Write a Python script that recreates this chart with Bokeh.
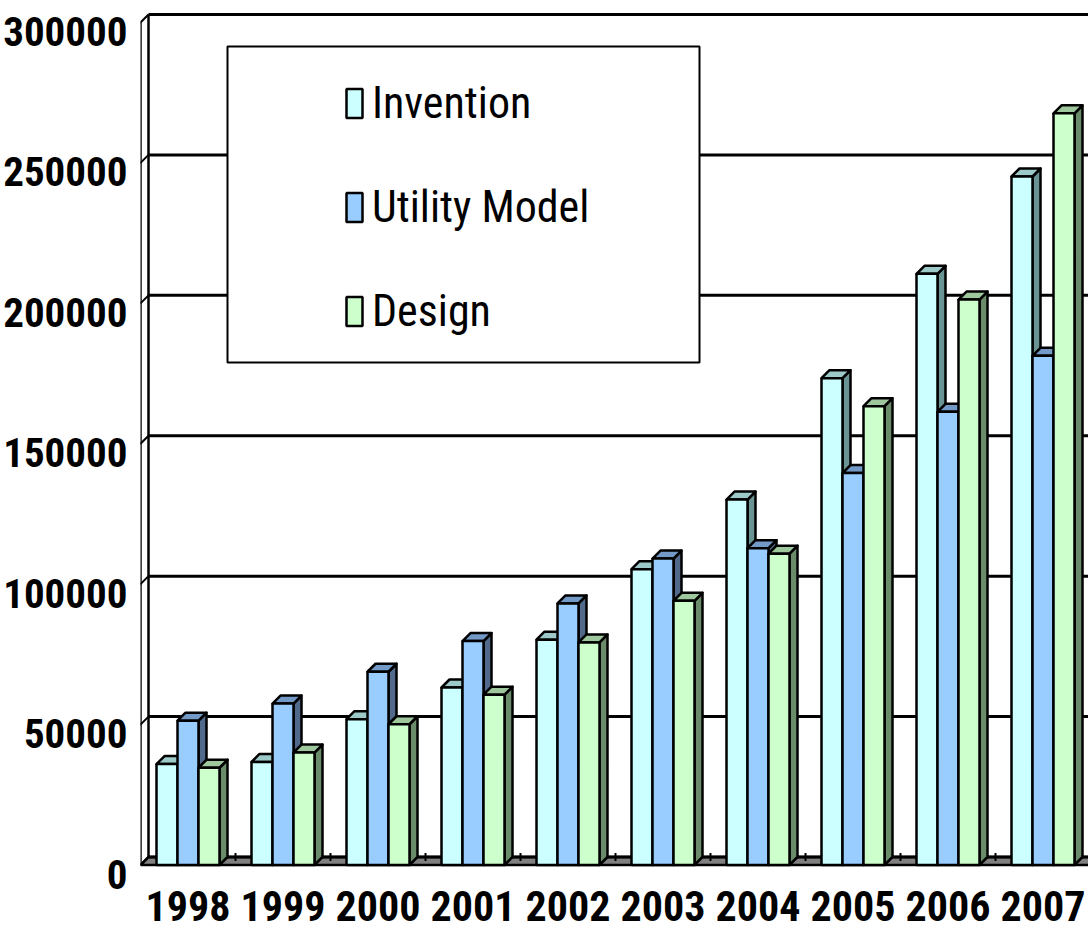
import numpy as np
from bokeh.plotting import figure
from bokeh.models import Range1d, LinearAxis, FixedTicker, Legend, LegendItem
from bokeh.embed import file_html
from bokeh.resources import INLINE

# ---------------- data ----------------
years = ["1998", "1999", "2000", "2001", "2002", "2003", "2004", "2005", "2006", "2007"]
series_names = ["Invention", "Utility Model", "Design"]
invention = [35960, 36694, 51906, 63204, 80232, 105318, 130133, 173327, 210490, 245161]
utility = [51397, 57492, 68815, 79722, 93139, 109115, 112825, 139566, 161366, 181324]
design = [34632, 40053, 50120, 60647, 79260, 94054, 110849, 163371, 201322, 267668]
y_ticks = [0, 50000, 100000, 150000, 200000, 250000, 300000]
y_labels = ["0", "50000", "100000", "150000", "200000", "250000", "300000"]

front_colors = ["#CCFFFF", "#99CCFF", "#CCFFCC"]
top_colors = ["#9EC9C9", "#7399C6", "#9EC79E"]
side_colors = ["#6A9393", "#51698A", "#6A8C6A"]

# ---------------- geometry (pixels -> data units) ----------------
XU = 95.0                 # px per category
YU = 842.5 / 300000.0     # px per value unit
DX = 8.0 / XU             # 3-D depth, horizontal
DY = 8.0 / YU             # 3-D depth, vertical
BAR_W = 21.0 / XU
XEND = 11.0
TICK_FONT = "Roboto Condensed"
LEG_FONT = "Roboto Condensed"

FRAME_TOP = 10
FRAME_BOTTOM = 876
ZERO_PX = 864.5
W, H = 1088, 939

y_start = -(FRAME_BOTTOM - ZERO_PX) / YU
y_end = (ZERO_PX - FRAME_TOP) / YU

p = figure(width=W, height=H, output_backend="svg", toolbar_location=None,
           x_range=Range1d(0, (W - 140) / XU), y_range=Range1d(y_start, y_end),
           x_axis_location=None, y_axis_location=None,
           min_border_left=140, min_border_right=0, min_border_top=FRAME_TOP,
           min_border_bottom=H - FRAME_BOTTOM)
p.outline_line_color = None
p.xgrid.visible = False
p.ygrid.visible = False
p.background_fill_color = "white"
p.border_fill_color = "white"

# label axis range shifted so labels sit slightly below their ticks (as in the original)
shift = 9.0 / YU
p.extra_y_ranges = {"lab": Range1d(y_start + shift, y_end + shift)}
yax = LinearAxis(y_range_name="lab", ticker=FixedTicker(ticks=y_ticks),
                 major_label_overrides={t: l for t, l in zip(y_ticks, y_labels)})
yax.axis_line_color = None
yax.major_tick_line_color = None
yax.minor_tick_line_color = None
yax.major_tick_out = 0
yax.major_tick_in = 0
yax.major_label_standoff = 13
yax.major_label_text_font = TICK_FONT
yax.major_label_text_font_style = "bold"
yax.major_label_text_font_size = "41px"
yax.major_label_text_color = "black"
p.add_layout(yax, "left")

centers = [i + 0.5 for i in range(len(years))]
xax = LinearAxis(ticker=FixedTicker(ticks=centers),
                 major_label_overrides={c: y for c, y in zip(centers, years)})
xax.axis_line_color = None
xax.major_tick_line_color = None
xax.minor_tick_line_color = None
xax.major_tick_out = 0
xax.major_tick_in = 0
xax.major_label_standoff = 14
xax.major_label_text_font = TICK_FONT
xax.major_label_text_font_style = "bold"
xax.major_label_text_font_size = "42px"
xax.major_label_text_color = "black"
p.add_layout(xax, "below")

# ---------------- floor ----------------
p.patch([0, XEND, XEND + DX, DX], [0, 0, DY, DY], fill_color="#808080",
        line_color="black", line_width=2.5)
bounds = list(range(1, len(years) + 1))
p.segment(x0=bounds, y0=[DY * 0.5] * len(bounds), x1=bounds, y1=[DY * 1.5] * len(bounds),
          line_color="black", line_width=2)

# ---------------- walls & gridlines ----------------
p.segment(x0=[DX] * len(y_ticks), y0=[t + DY for t in y_ticks],
          x1=[XEND] * len(y_ticks), y1=[t + DY for t in y_ticks],
          line_color="black", line_width=3)
p.segment(x0=[0] * len(y_ticks), y0=y_ticks, x1=[DX] * len(y_ticks),
          y1=[t + DY for t in y_ticks], line_color="black", line_width=2)
p.segment(x0=[-7 / XU] * len(y_ticks), y0=y_ticks, x1=[0] * len(y_ticks), y1=y_ticks,
          line_color="black", line_width=2.5)
p.segment(x0=[0, DX], y0=[0, DY], x1=[0, DX], y1=[y_ticks[-1], y_ticks[-1] + DY],
          line_color="black", line_width=2.5)

# ---------------- legend box ----------------
p.quad(left=[(227 - 140) / XU], right=[(699 - 140) / XU],
       top=[(ZERO_PX - 46) / YU], bottom=[(ZERO_PX - 362) / YU],
       fill_color="white", line_color="black", line_width=2)

# ---------------- 3-D bars ----------------
front_renderers = []
for s, vals in enumerate([invention, utility, design]):
    lefts = [c - 1.5 * BAR_W + s * BAR_W for c in centers]
    rights = [l + BAR_W for l in lefts]
    side_xs = [[r, r + DX, r + DX, r] for r in rights]
    side_ys = [[0, DY, v + DY, v] for v in vals]
    top_xs = [[l, r, r + DX, l + DX] for l, r in zip(lefts, rights)]
    top_ys = [[v, v, v + DY, v + DY] for v in vals]
    p.patches(side_xs, side_ys, fill_color=side_colors[s], line_color="black",
              line_width=2.5, line_join="round")
    p.patches(top_xs, top_ys, fill_color=top_colors[s], line_color="black",
              line_width=2.5, line_join="round")
    fr = p.quad(left=lefts, right=rights, bottom=[0] * len(vals), top=vals,
                fill_color=front_colors[s], line_color="black", line_width=2.5)
    front_renderers.append(fr)

legend = Legend(items=[LegendItem(label=n, renderers=[r])
                       for n, r in zip(series_names, front_renderers)],
                location=(204, FRAME_BOTTOM - 337), padding=0, margin=0, spacing=52,
                glyph_width=20, glyph_height=36, label_standoff=8,
                label_height=52,
                label_text_font=LEG_FONT, label_text_font_size="44px",
                label_text_color="black",
                border_line_color=None, background_fill_alpha=0)
p.add_layout(legend)

open("out.html", "w").write(file_html(p, INLINE))
